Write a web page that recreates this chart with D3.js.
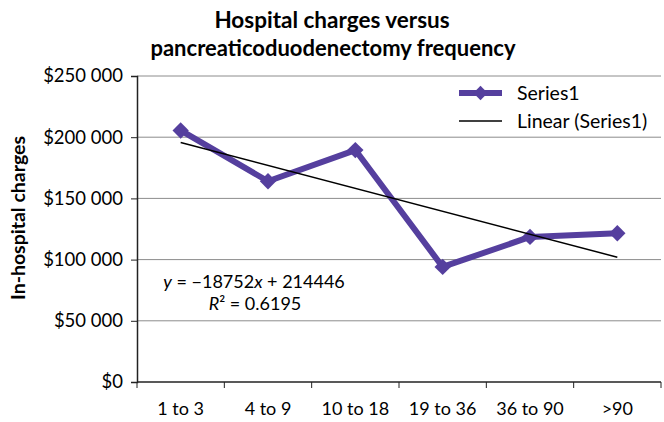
<!DOCTYPE html>
<html>
<head>
<meta charset="utf-8">
<script src="https://cdn.jsdelivr.net/npm/d3@7"></script>
<style>
  body { margin: 0; background: #fff; }
  text { font-family: Lato, "Open Sans", sans-serif; fill: #000; }
</style>
</head>
<body>
<div id="chart"></div>
<script>
// chart data
var categories = ["1 to 3", "4 to 9", "10 to 18", "19 to 36", "36 to 90", ">90"];
var charges = [205500, 164000, 189500, 94000, 118500, 121500];
var yTicks = [0, 50000, 100000, 150000, 200000, 250000];
var trendSlope = -18752, trendIntercept = 214446;

// set the dimensions and margins of the graph
var W = 664, H = 422;
var margin = {top: 76, right: 3, bottom: 40, left: 137},
    width = W - margin.left - margin.right,
    height = H - margin.top - margin.bottom;

var x = d3.scaleBand().domain(categories).range([0, width]).padding(0);
var y = d3.scaleLinear().domain([0, 250000]).range([height, 0]);

var svg = d3.select("#chart").append("svg")
    .attr("width", W).attr("height", H);

// title
svg.append("text").attr("x", 332).attr("y", 28)
    .attr("text-anchor", "middle").style("font-size", "22.5px").style("font-weight", "bold")
    .text("Hospital charges versus");
svg.append("text").attr("x", 333).attr("y", 56)
    .attr("text-anchor", "middle").style("font-size", "22px").style("font-weight", "bold")
    .text("pancreaticoduodenectomy frequency");

// y axis title
svg.append("text")
    .attr("transform", "translate(25,218) rotate(-90)")
    .attr("text-anchor", "middle").style("font-size", "19.5px").style("font-weight", "bold")
    .text("In-hospital charges");

var g = svg.append("g")
    .attr("transform", "translate(" + margin.left + "," + margin.top + ")");

// gridlines
g.selectAll(".grid").data(yTicks.slice(1)).enter().append("line")
    .attr("x1", 0).attr("x2", width)
    .attr("y1", function(d) { return y(d); }).attr("y2", function(d) { return y(d); })
    .attr("stroke", "#8c8c8c").attr("stroke-width", 1);

// y axis
var fmt = function(d) { return "$" + d3.format(",")(d).replace(/,/g, " "); };
var yAxis = g.append("g")
    .call(d3.axisLeft(y).tickValues(yTicks).tickFormat(fmt).tickSize(6).tickPadding(8));
yAxis.selectAll("text").style("font-size", "18.5px");
yAxis.select(".domain").attr("stroke", "#222").attr("stroke-width", 1.5);
yAxis.selectAll(".tick line").attr("stroke", "#222");

// x axis (labels at band centres, ticks at band edges)
var xAxis = g.append("g")
    .attr("transform", "translate(0," + height + ")")
    .call(d3.axisBottom(x).tickSize(0).tickPadding(20));
xAxis.selectAll("text").style("font-size", "18px");
xAxis.select(".domain").remove();
xAxis.append("line").attr("x1", 0).attr("x2", width)
    .attr("stroke", "#222").attr("stroke-width", 1.5);
xAxis.selectAll(".edge").data(categories.concat(["end"])).enter().append("line")
    .attr("x1", function(d, i) { return i < categories.length ? x(d) : width; })
    .attr("x2", function(d, i) { return i < categories.length ? x(d) : width; })
    .attr("y1", 0).attr("y2", 6).attr("stroke", "#222");

// series line
var cx = function(d, i) { return x(categories[i]) + x.bandwidth() / 2; };
var purple = "#553f9e";
g.append("path").datum(charges)
    .attr("fill", "none").attr("stroke", purple).attr("stroke-width", 6)
    .attr("stroke-linejoin", "round")
    .attr("d", d3.line().x(cx).y(function(d) { return y(d); }));

var diamond = d3.symbol().type(d3.symbolDiamond2).size(170);
g.selectAll(".pt").data(charges).enter().append("path")
    .attr("transform", function(d, i) { return "translate(" + cx(d, i) + "," + y(d) + ")"; })
    .attr("d", diamond).attr("fill", purple);

// linear trend line
var trend = [1, categories.length].map(function(k) { return trendIntercept + trendSlope * k; });
g.append("line")
    .attr("x1", cx(null, 0)).attr("y1", y(trend[0]))
    .attr("x2", cx(null, categories.length - 1)).attr("y2", y(trend[1]))
    .attr("stroke", "#000").attr("stroke-width", 1.5);

// legend
var leg = svg.append("g").attr("transform", "translate(459,93)");
leg.append("line").attr("x1", 0).attr("x2", 43).attr("y1", 0).attr("y2", 0)
    .attr("stroke", purple).attr("stroke-width", 6);
leg.append("path").attr("transform", "translate(21.5,0)")
    .attr("d", d3.symbol().type(d3.symbolDiamond2).size(130)).attr("fill", purple);
leg.append("text").attr("x", 58).attr("y", 7).style("font-size", "19.5px").text("Series1");
leg.append("line").attr("x1", 0).attr("x2", 43).attr("y1", 28).attr("y2", 28)
    .attr("stroke", "#000").attr("stroke-width", 1.5);
leg.append("text").attr("x", 58).attr("y", 35).style("font-size", "19.5px").text("Linear (Series1)");

// equation
var eq = svg.append("text").attr("x", 254).attr("y", 288)
    .attr("text-anchor", "middle").style("font-size", "18px");
eq.append("tspan").style("font-style", "italic").text("y");
eq.append("tspan").text(" = \u221218752");
eq.append("tspan").style("font-style", "italic").text("x");
eq.append("tspan").text(" + 214446");
var r2 = svg.append("text").attr("x", 255).attr("y", 310)
    .attr("text-anchor", "middle").style("font-size", "18px");
r2.append("tspan").style("font-style", "italic").text("R");
r2.append("tspan").text("\u00b2 = 0.6195");
</script>
</body>
</html>
